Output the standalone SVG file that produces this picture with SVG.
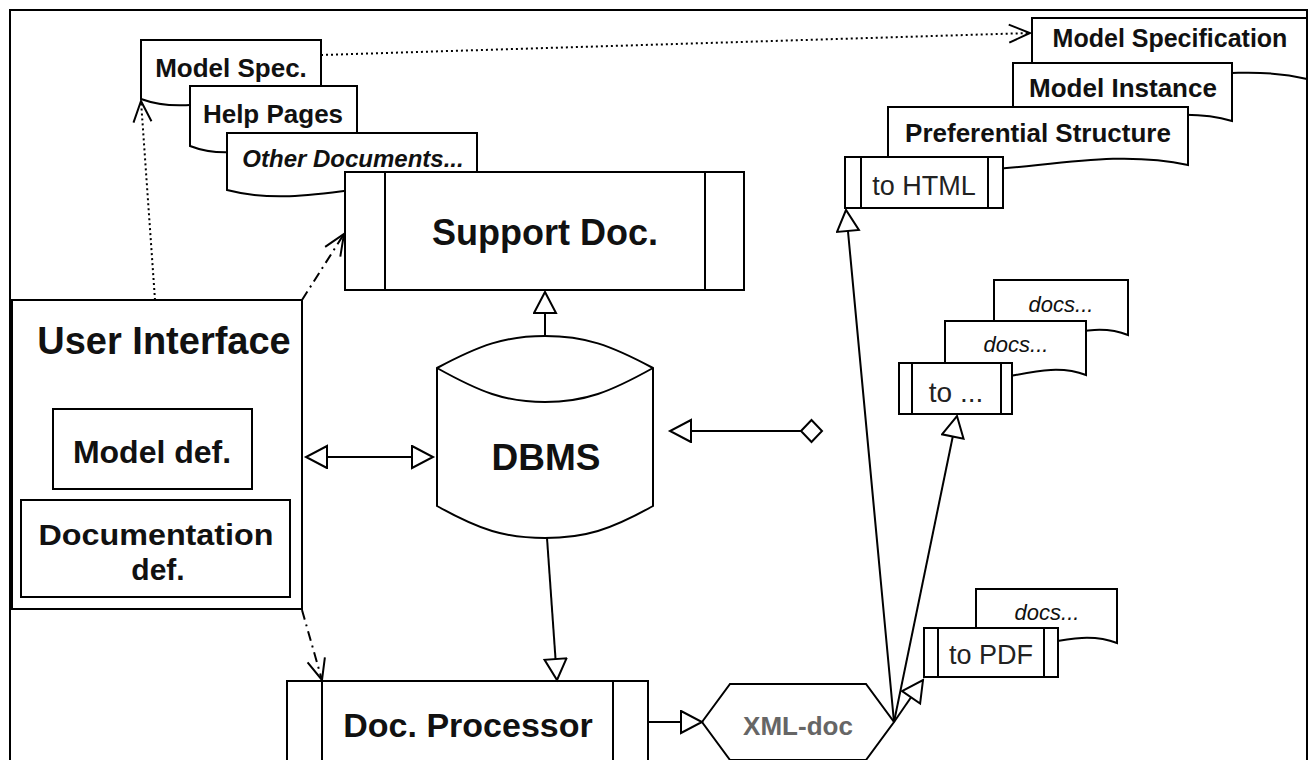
<svg xmlns="http://www.w3.org/2000/svg" width="1314" height="760" viewBox="0 0 1314 760">
<style>
.s{fill:#fff;stroke:#000;stroke-width:2}
.n{fill:none;stroke:#000;stroke-width:2}
.b{font-family:"Liberation Sans",Arial,sans-serif;font-weight:bold;fill:#111;text-anchor:middle}
.r{font-family:"Liberation Sans",Arial,sans-serif;fill:#222;text-anchor:middle}
.i{font-family:"Liberation Sans",Arial,sans-serif;font-style:italic;fill:#111;text-anchor:middle}
.c{fill:none;stroke:#000;stroke-width:2}
.dot{stroke-dasharray:2 3}
.dd{stroke-dasharray:10 5 2 5}
</style>
<defs>
<marker id="tri" markerUnits="userSpaceOnUse" markerWidth="26" markerHeight="26" refX="23" refY="12" orient="auto-start-reverse">
<path d="M2,1 L23,12 L2,23 Z" fill="#fff" stroke="#000" stroke-width="2"/>
</marker>
<marker id="open" markerUnits="userSpaceOnUse" markerWidth="26" markerHeight="24" refX="23" refY="11" orient="auto">
<path d="M2,2 L23,11 L2,20" fill="none" stroke="#000" stroke-width="2"/>
</marker>
</defs>
<rect width="1314" height="760" fill="#fff"/>
<rect x="10" y="10" width="1297" height="770" class="n"/>

<g id="doc-model-spec">
<path class="s" d="M141,99 V40 H321 V99 C261,77 201,121 141,99 Z"/>
<text class="b" x="231" y="77" font-size="26">Model Spec.</text>
</g>
<g id="doc-help-pages">
<path class="s" d="M190,146 V86 H357 V146 C301,124 246,168 190,146 Z"/>
<text class="b" x="273" y="123" font-size="26">Help Pages</text>
</g>
<g id="doc-other">
<path class="s" d="M227,190 V133 H477 V190 C394,168 310,212 227,190 Z"/>
<text class="b" x="353" y="167" font-size="24" font-style="italic">Other Documents...</text>
</g>
<g id="support-doc">
<rect class="s" x="345" y="172" width="399" height="118"/>
<line class="n" x1="385" y1="172" x2="385" y2="290"/>
<line class="n" x1="705" y1="172" x2="705" y2="290"/>
<text class="b" x="545" y="245" font-size="36">Support Doc.</text>
</g>

<g id="doc-model-specification">
<path class="s" d="M1032,79 V18 H1307 V79 C1215,57 1124,101 1032,79 Z"/>
<text class="b" x="1170" y="47" font-size="25">Model Specification</text>
</g>
<g id="doc-model-instance">
<path class="s" d="M1013,121 V63 H1232 V121 C1159,99 1086,143 1013,121 Z"/>
<text class="b" x="1123" y="97" font-size="26">Model Instance</text>
</g>
<g id="doc-preferential">
<path class="s" d="M888,165 V107 H1188 V165 C1088,143 988,187 888,165 Z"/>
<text class="b" x="1038" y="142" font-size="26">Preferential Structure</text>
</g>
<g id="to-html">
<rect class="s" x="845" y="157" width="158" height="51"/>
<line class="n" x1="861" y1="157" x2="861" y2="208"/>
<line class="n" x1="988" y1="157" x2="988" y2="208"/>
<text class="r" x="924" y="195" font-size="27">to HTML</text>
</g>

<g id="docs-1">
<path class="s" d="M994,335 V280 H1128 V335 C1083,317 1039,353 994,335 Z"/>
<text class="i" x="1061" y="312" font-size="22">docs...</text>
</g>
<g id="docs-2">
<path class="s" d="M945,375 V321 H1086 V375 C1039,357 992,393 945,375 Z"/>
<text class="i" x="1016" y="352" font-size="22">docs...</text>
</g>
<g id="to-other">
<rect class="s" x="899" y="363" width="113" height="51"/>
<line class="n" x1="912" y1="363" x2="912" y2="414"/>
<line class="n" x1="1001" y1="363" x2="1001" y2="414"/>
<text class="r" x="956" y="402" font-size="28">to ...</text>
</g>

<g id="docs-3">
<path class="s" d="M976,643 V589 H1117 V643 C1070,625 1023,661 976,643 Z"/>
<text class="i" x="1047" y="620" font-size="22">docs...</text>
</g>
<g id="to-pdf">
<rect class="s" x="924" y="628" width="134" height="49"/>
<line class="n" x1="938" y1="628" x2="938" y2="677"/>
<line class="n" x1="1044" y1="628" x2="1044" y2="677"/>
<text class="r" x="991" y="664" font-size="27">to PDF</text>
</g>

<g id="user-interface">
<rect class="s" x="12" y="300" width="290" height="309"/>
<text class="b" x="164" y="354" font-size="38">User Interface</text>
<g id="model-def">
<rect class="s" x="53" y="409" width="199" height="80"/>
<text class="b" x="152" y="463" font-size="32">Model def.</text>
</g>
<g id="documentation-def">
<rect class="s" x="21" y="500" width="269" height="97"/>
<text class="b" x="156" y="545" font-size="30" textLength="235" lengthAdjust="spacingAndGlyphs">Documentation</text>
<text class="b" x="158" y="580" font-size="30">def.</text>
</g>
</g>

<g id="dbms">
<path class="s" d="M437,368 C480,345 505,336 545,336 C585,336 610,345 653,368 V506 C610,530 585,538 545,538 C505,538 480,530 437,506 Z"/>
<path class="n" d="M437,368 C480,392 505,402 545,402 C585,402 610,392 653,368"/>
<text class="b" x="546" y="470" font-size="37">DBMS</text>
</g>

<g id="doc-processor">
<rect class="s" x="287" y="681" width="361" height="100"/>
<line class="n" x1="322" y1="681" x2="322" y2="781"/>
<line class="n" x1="613" y1="681" x2="613" y2="781"/>
<text class="b" x="468" y="737" font-size="34">Doc. Processor</text>
</g>

<g id="xml-doc">
<path class="s" stroke-width="1.5" d="M702,722 L730,684 H866 L894,722 L866,760 H730 Z"/>
<text class="b" x="798" y="735" font-size="26" style="fill:#666">XML-doc</text>
</g>

<g id="connectors">
<line class="c" x1="545" y1="336" x2="545" y2="292" marker-end="url(#tri)"/>
<line class="c" x1="306" y1="457" x2="433" y2="457" marker-start="url(#tri)" marker-end="url(#tri)"/>
<line class="c" x1="801" y1="431" x2="670" y2="431" marker-end="url(#tri)"/>
<path class="s" d="M801,431 L811.5,420 L822,431 L811.5,442 Z"/>
<line class="c" x1="547" y1="538" x2="557" y2="680" marker-end="url(#tri)"/>
<line class="c" x1="648" y1="722" x2="702" y2="722" marker-end="url(#tri)"/>
<line class="c" x1="894" y1="722" x2="846" y2="210" marker-end="url(#tri)"/>
<line class="c" x1="894" y1="722" x2="957" y2="416" marker-end="url(#tri)"/>
<line class="c" x1="894" y1="722" x2="923" y2="680" marker-end="url(#tri)"/>
<line class="c dot" x1="155" y1="300" x2="141" y2="101" marker-end="url(#open)"/>
<line class="c dot" x1="321" y1="55" x2="1030" y2="33" marker-end="url(#open)"/>
<line class="c dd" x1="302" y1="300" x2="344" y2="234" marker-end="url(#open)"/>
<line class="c dd" x1="302" y1="610" x2="322" y2="680" marker-end="url(#open)"/>
</g>
</svg>
